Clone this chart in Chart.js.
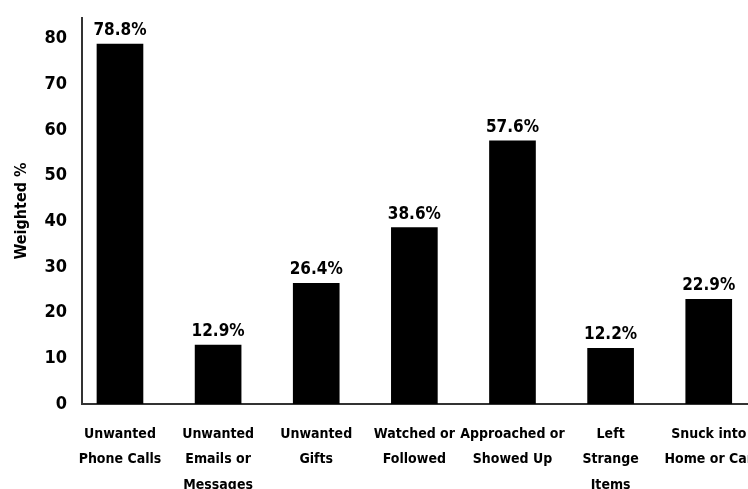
<!DOCTYPE html>
<html lang="en">
<head>
  <meta charset="UTF-8">
  <title>Weighted %</title>
  <script src="https://cdn.jsdelivr.net/npm/chart.js@4"></script>
  <style>
    html, body { margin: 0; padding: 0; background: #fff; overflow: hidden; }
    #wrap { width: 800px; height: 520px; }
  </style>
</head>
<body>
  <div id="wrap"><canvas id="chart1" width="800" height="520"></canvas></div>
  <script>
    // categories (multi-line labels) and values
    const categories = [
      ['Unwanted', 'Phone Calls'],
      ['Unwanted', 'Emails or', 'Messages'],
      ['Unwanted', 'Gifts'],
      ['Watched or', 'Followed'],
      ['Approached or', 'Showed Up'],
      ['Left', 'Strange', 'Items'],
      ['Snuck into', 'Home or Car']
    ];
    const values = [78.8, 12.9, 26.4, 38.6, 57.6, 12.2, 22.9];
    const yTicks = [0, 10, 20, 30, 40, 50, 60, 70, 80];

    const fontFam = '"DejaVu Sans Condensed", "Liberation Sans Narrow", sans-serif';

    // value labels above each bar
    const valueLabels = {
      id: 'valueLabels',
      afterDatasetsDraw(chart) {
        const ctx = chart.ctx;
        const meta = chart.getDatasetMeta(0);
        ctx.save();
        ctx.fillStyle = '#000';
        ctx.font = 'bold 17px ' + fontFam;
        ctx.textAlign = 'center';
        ctx.textBaseline = 'bottom';
        meta.data.forEach((bar, i) => {
          ctx.fillText(values[i].toFixed(1) + '%', bar.x, bar.y - 5);
        });
        ctx.restore();
      }
    };

    const ctx = document.getElementById('chart1').getContext('2d');
    new Chart(ctx, {
      type: 'bar',
      data: {
        datasets: [{
          data: values.map((v, i) => ({ x: i, y: v })),
          backgroundColor: '#000',
          borderWidth: 0,
          barThickness: 46
        }]
      },
      options: {
        responsive: false,
        animation: false,
        layout: { padding: { top: 18, right: 0, bottom: 0, left: 0 } },
        plugins: { legend: { display: false }, tooltip: { enabled: false } },
        scales: {
          x: {
            type: 'linear',
            offset: false,
            min: -0.387,
            max: 6.93,
            grid: { display: false, drawTicks: false, offset: false },
            border: { display: true, color: '#333', width: 2 },
            afterBuildTicks: (scale) => {
              scale.ticks = categories.map((c, i) => ({ value: i }));
            },
            afterFit: (scale) => { scale.height = 116; },
            ticks: {
              autoSkip: false,
              maxRotation: 0,
              padding: 18,
              color: '#000',
              font: { family: fontFam, size: 14, weight: 'bold', lineHeight: 1.8 },
              callback: (v) => categories[v]
            }
          },
          y: {
            min: 0,
            max: 84.5,
            grid: { display: false, drawTicks: false },
            border: { display: true, color: '#333', width: 2 },
            afterBuildTicks: (scale) => {
              scale.ticks = yTicks.map(t => ({ value: t }));
            },
            afterFit: (scale) => {
              scale.width = 82;
              scale.paddingTop = 0;
              scale.paddingBottom = 0;
            },
            ticks: {
              padding: 15,
              color: '#000',
              font: { family: fontFam, size: 18, weight: 'bold' }
            },
            title: {
              display: true,
              text: 'Weighted %',
              color: '#000',
              padding: { top: 12, bottom: 0 },
              font: { family: fontFam, size: 16, weight: 'bold' }
            }
          }
        }
      },
      plugins: [valueLabels]
    });
  </script>
</body>
</html>
